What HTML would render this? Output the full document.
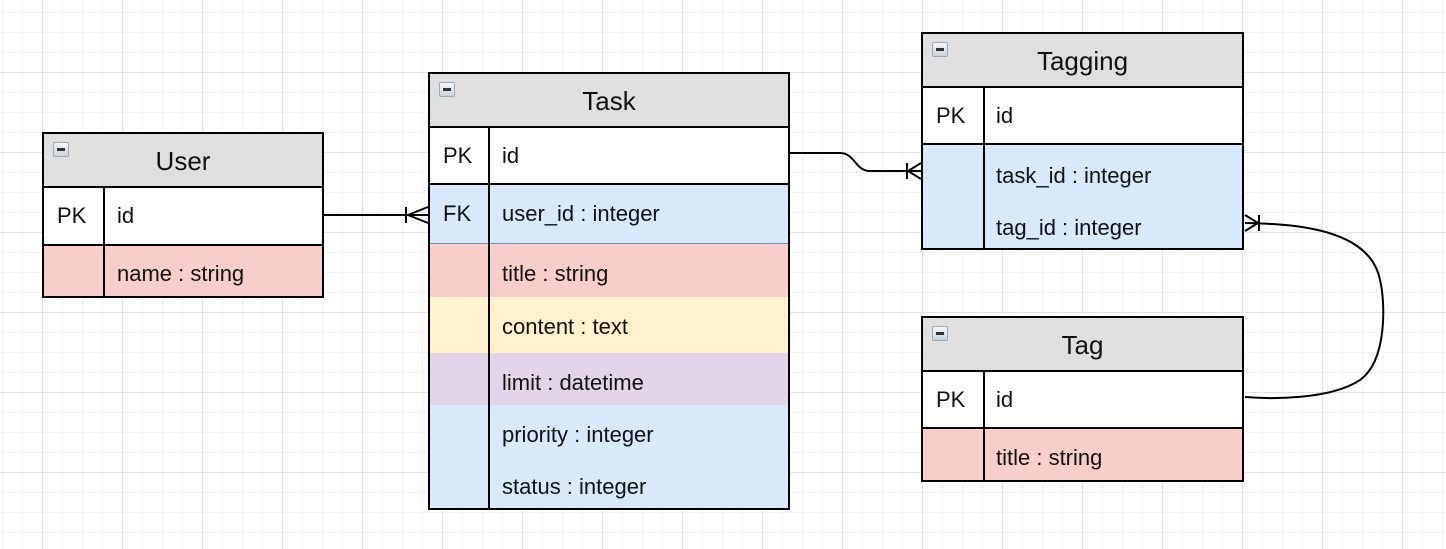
<!DOCTYPE html>
<html><head><meta charset="utf-8"><style>
body{margin:0;width:1446px;height:549px;overflow:hidden;position:relative;font-family:"Liberation Sans",Arial,sans-serif;
background-color:#fff;
background-image:
linear-gradient(to right,#e3e3e3 1px,transparent 1px),
linear-gradient(to bottom,#e3e3e3 1px,transparent 1px),
linear-gradient(to right,#f3f3f3 1px,transparent 1px),
linear-gradient(to bottom,#f3f3f3 1px,transparent 1px);
background-size:80px 80px,80px 80px,20px 20px,20px 20px;
background-position:42px 72px,42px 72px,2px 12px,2px 12px;}
.t{position:absolute;border:2px solid #000;box-sizing:border-box;}
.h{position:absolute;left:0;right:0;top:0;background:#dfdfdf;border-bottom:2px solid #000;box-sizing:border-box;text-align:center;font-size:26px;color:#111;z-index:2}
.ic{position:absolute;left:9px;top:8px;width:14px;height:13px;border:1px solid #9ab;border-radius:2px;background:linear-gradient(#f4f6f8,#c9d3dc);}
.ic:after{content:"";position:absolute;left:3px;right:3px;top:5px;height:3px;background:#333;}
.r{position:absolute;left:0;right:0;box-sizing:border-box;font-size:22px;color:#111;}
.r span{position:absolute;top:50%;transform:translateY(-50%);}
.k{left:13px}
.v{position:absolute;top:0;bottom:0;width:2px;background:#000;z-index:1}
</style></head><body>

<!-- User -->
<div class="t" style="left:42px;top:132px;width:282px;height:166px;">
 <div class="h" style="height:54px;line-height:54px;">User<div class="ic"></div></div>
 <div class="r" style="top:54px;height:58px;background:#fff;border-bottom:2px solid #000;"><span class="k">PK</span><span style="left:73px">id</span></div>
 <div class="r" style="top:112px;height:50px;background:#f8cecc;"><span style="left:73px;top:28px">name : string</span></div>
 <div class="v" style="left:59px;top:52px;"></div>
</div>

<!-- Task -->
<div class="t" style="left:428px;top:72px;width:362px;height:438px;">
 <div class="h" style="height:54px;line-height:54px;">Task<div class="ic"></div></div>
 <div class="r" style="top:54px;height:57px;background:#fff;border-bottom:2px solid #000;"><span class="k">PK</span><span style="left:72px">id</span></div>
 <div class="r" style="top:111px;height:59px;background:#dae8fc;border-bottom:1px solid #6c8ebf;"><span class="k">FK</span><span style="left:72px">user_id : integer</span></div>
 <div class="r" style="top:170px;height:53px;background:#f8cecc;"><span style="left:72px;top:30px">title : string</span></div>
 <div class="r" style="top:223px;height:56px;background:#fff2cc;"><span style="left:72px;top:30px">content : text</span></div>
 <div class="r" style="top:279px;height:52px;background:#e1d5e7;"><span style="left:72px;top:30px">limit : datetime</span></div>
 <div class="r" style="top:331px;height:103px;background:#dae8fc;"><span style="left:72px;top:30px">priority : integer</span><span style="left:72px;top:82px">status : integer</span></div>
 <div class="v" style="left:58px;top:52px;"></div>
</div>

<!-- Tagging -->
<div class="t" style="left:921px;top:32px;width:323px;height:218px;">
 <div class="h" style="height:54px;line-height:54px;">Tagging<div class="ic"></div></div>
 <div class="r" style="top:54px;height:57px;background:#fff;border-bottom:2px solid #000;"><span class="k">PK</span><span style="left:73px">id</span></div>
 <div class="r" style="top:111px;height:103px;background:#dae8fc;"><span style="left:73px;top:31px">task_id : integer</span><span style="left:73px;top:83px">tag_id : integer</span></div>
 <div class="v" style="left:60px;top:52px;"></div>
</div>

<!-- Tag -->
<div class="t" style="left:921px;top:316px;width:323px;height:166px;">
 <div class="h" style="height:54px;line-height:54px;">Tag<div class="ic"></div></div>
 <div class="r" style="top:54px;height:57px;background:#fff;border-bottom:2px solid #000;"><span class="k">PK</span><span style="left:73px">id</span></div>
 <div class="r" style="top:111px;height:51px;background:#f8cecc;"><span style="left:73px;top:29px">title : string</span></div>
 <div class="v" style="left:60px;top:52px;"></div>
</div>

<svg width="1446" height="549" style="position:absolute;left:0;top:0" fill="none" stroke="#000" stroke-width="2">
 <path d="M324 215 H428"/>
 <path d="M406 207 V223 M428 207 L408 215 L428 223"/>
 <path d="M790 153 H840 C855 153 855 171 870 171 H921"/>
 <path d="M907 163 V179 M921 163 L908 171 L921 179"/>
 <path d="M1245 397 C1270 399 1330 400 1360 380 C1388 360 1385 300 1380 280 C1370 230 1300 224 1245 223"/>
 <path d="M1259 215 V231 M1245 215 L1258 223 L1245 231"/>
</svg>
</body></html>
